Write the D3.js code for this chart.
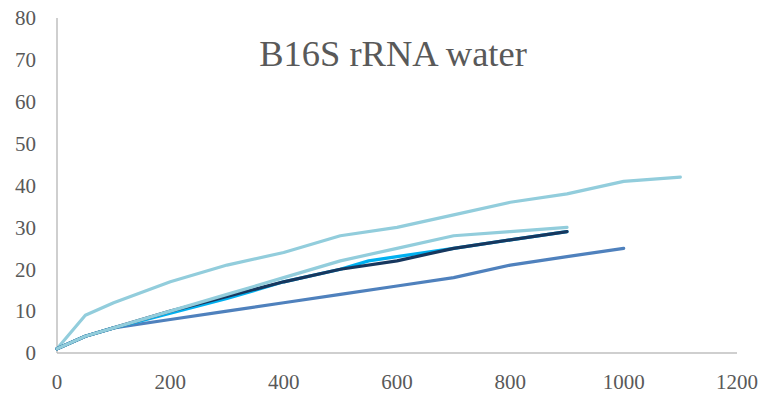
<!DOCTYPE html>
<html><head><meta charset="utf-8">
<script src="https://cdn.jsdelivr.net/npm/d3@7"></script>
<style>body{margin:0;background:#fff}svg{display:block}</style>
</head><body>
<svg id="c" width="762" height="395"></svg>
<script>
const title = "B16S rRNA water";
const xTicks = [0,200,400,600,800,1000,1200];
const yTicks = [0,10,20,30,40,50,60,70,80];
const s1x = [0,50,100,200,300,400,500,600,700,800,900,1000,1100];
const s1y = [1,9,12,17,21,24,28,30,33,36,38,41,42];
const s2x = [0,50,100,200,300,400,500,600,700,800,900,1000];
const s2y = [1,4,6,8,10,12,14,16,18,21,23,25];
const s3x = [0,50,100,200,300,400,500,550,600,700,800,900];
const s3y = [1,4,6,9.5,13,17,20,22,23,25,27,29];
const s4x = [0,50,100,200,300,400,500,600,700,800,900];
const s4y = [1,4,6,10,13.5,17,20,22,25,27,29];
const s5x = [0,50,100,200,300,400,500,600,700,800,900];
const s5y = [1,4,6,10,14,18,22,25,28,29,30];
const colors = ["#92CDDC","#4F81BD","#00B0F0","#17375E","#92CDDC"];

const svg = d3.select("#c");
const x = d3.scaleLinear().domain([0,1200]).range([57,737]);
const y = d3.scaleLinear().domain([0,80]).range([353,18]);
const font = "'Liberation Serif','Times New Roman',serif";

svg.append("line").attr("x1",x(0)).attr("x2",x(0)).attr("y1",y(80)).attr("y2",y(0))
  .attr("stroke","#BFBFBF").attr("stroke-width",1.5);
svg.append("line").attr("x1",x(0)).attr("x2",x(1200)).attr("y1",y(0)).attr("y2",y(0))
  .attr("stroke","#BFBFBF").attr("stroke-width",1.5);

svg.selectAll("text.yt").data(yTicks).enter().append("text").attr("class","yt")
  .attr("x",36).attr("y",d=>y(d)).attr("dy","0.35em").attr("text-anchor","end")
  .attr("font-family",font).attr("font-size",21).attr("fill","#595959").text(d=>d);
svg.selectAll("text.xt").data(xTicks).enter().append("text").attr("class","xt")
  .attr("x",d=>x(d)).attr("y",389).attr("text-anchor","middle")
  .attr("font-family",font).attr("font-size",21).attr("fill","#595959").text(d=>d);

const series = [[s1x,s1y],[s2x,s2y],[s3x,s3y],[s4x,s4y],[s5x,s5y]];
const line = d3.line().x(d=>x(d[0])).y(d=>y(d[1]));
series.forEach((s,i)=>{
  const pts = s[0].map((v,j)=>[v,s[1][j]]);
  svg.append("path").attr("d",line(pts)).attr("fill","none")
    .attr("stroke",colors[i]).attr("stroke-width",3.2)
    .attr("stroke-linejoin","round").attr("stroke-linecap","round");
});

svg.append("text").attr("x",393).attr("y",66).attr("text-anchor","middle")
  .attr("font-family",font).attr("font-size",36.5).attr("fill","#595959").text(title);
</script>
</body></html>
